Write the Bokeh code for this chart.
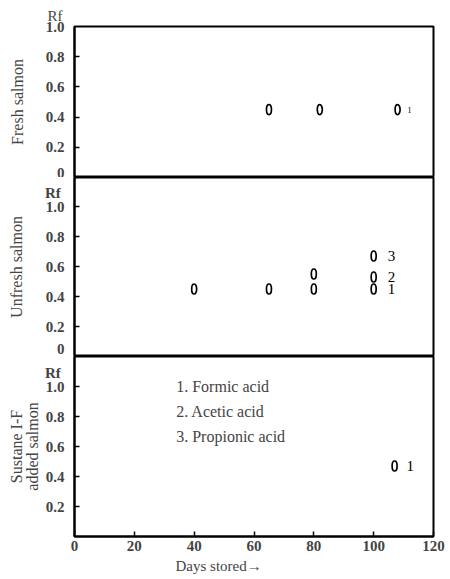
from bokeh.plotting import figure
from bokeh.layouts import column
from bokeh.models import Range1d, FixedTicker, Label, Title
from bokeh.core.properties import value
from bokeh.embed import file_html
from bokeh.resources import INLINE

# ---------------- data ----------------
x_ticks = [0, 20, 40, 60, 80, 100, 120]
y_ticks_top = [0, 0.2, 0.4, 0.6, 0.8, 1.0]
y_ticks_mid = [0, 0.2, 0.4, 0.6, 0.8, 1.0]
y_ticks_bot = [0.2, 0.4, 0.6, 0.8, 1.0]
y_tick_labels = {0: "0", 0.2: "0.2", 0.4: "0.4", 0.6: "0.6", 0.8: "0.8", 1.0: "1.0"}
rf_label = "Rf"

panel_titles = ["Fresh salmon", "Unfresh salmon", "Sustane I-F\nadded salmon"]

fresh_days = [65, 82, 108]
fresh_rf = [0.45, 0.45, 0.45]

unfresh_formic_days = [40, 65, 80, 100]
unfresh_formic_rf = [0.45, 0.45, 0.45, 0.45]
unfresh_acetic_days = [80, 100]
unfresh_acetic_rf = [0.55, 0.53]
unfresh_propionic_days = [100]
unfresh_propionic_rf = [0.67]

sustane_formic_days = [107]
sustane_formic_rf = [0.47]

legend_items = ["1. Formic acid", "2. Acetic acid", "3. Propionic acid"]
x_label = "Days stored\u2192"

# ---------------- layout / styling ----------------
SERIF = "Liberation Serif"
PX_PER_RF = 150.0
x_range = Range1d(0, 120)
FIG_W = 449
LEFT = 74
RIGHT = 16


def make_panel(frame_h, border_top, border_bottom, yticks, title, title_standoff,
               rf_tick, show_x, y_end=None, label_line_height=1.2):
    height = frame_h + border_top + border_bottom
    top = y_end if y_end is not None else frame_h / PX_PER_RF
    p = figure(width=FIG_W, height=height, x_range=x_range, y_range=Range1d(0, top),
               output_backend="svg", toolbar_location=None,
               min_border_left=LEFT, min_border_right=RIGHT,
               min_border_top=border_top, min_border_bottom=border_bottom,
               x_axis_location="below" if show_x else None)
    p.grid.visible = False
    p.outline_line_color = "black"
    p.outline_line_width = 2
    p.background_fill_color = "white"
    p.border_fill_color = "white"

    labels = {k: v for k, v in y_tick_labels.items() if k in yticks}
    majors = list(yticks)
    if rf_tick:
        rf_pos = 1.09
        majors.append(rf_pos)
        labels[rf_pos] = rf_label + "\u00a0"
    marks = [t for t in yticks if 0 < t < top]

    ya = p.yaxis[0]
    ya.ticker = FixedTicker(ticks=majors, minor_ticks=marks)
    ya.major_label_overrides = labels
    ya.major_tick_line_color = None
    ya.minor_tick_in = 5
    ya.minor_tick_out = 0
    ya.minor_tick_line_color = "black"
    ya.minor_tick_line_width = 1.5
    ya.axis_line_width = 2
    ya.major_label_text_font = SERIF
    ya.major_label_text_font_style = "bold"
    ya.major_label_text_font_size = "15px"
    ya.major_label_standoff = 4
    ya.axis_label = title
    ya.axis_label_text_font = SERIF
    ya.axis_label_text_font_style = "normal"
    ya.axis_label_text_font_size = "16px"
    ya.axis_label_text_line_height = label_line_height
    ya.axis_label_standoff = title_standoff

    if show_x:
        xa = p.xaxis[0]
        xa.ticker = FixedTicker(ticks=x_ticks)
        xa.major_tick_in = 5
        xa.major_tick_out = 0
        xa.minor_tick_line_color = None
        xa.axis_line_width = 2
        xa.major_tick_line_width = 1.5
        xa.major_label_text_font = SERIF
        xa.major_label_text_font_style = "bold"
        xa.major_label_text_font_size = "15px"
        xa.major_label_standoff = 4
    return p


def spots(p, days, rf):
    p.ellipse(x=days, y=rf, width=5, height=10, width_units="screen", height_units="screen",
              fill_color=None, line_color="black", line_width=1.7)


def tags(p, days, rf, texts, dx, size):
    p.text(x=days, y=rf, text=texts, x_offset=dx, text_baseline="middle",
           text_font=value(SERIF), text_font_size=size, text_color="black")


# panel 1: fresh salmon
p1 = make_panel(151, 26, 0, y_ticks_top, panel_titles[0], 17, False, False, y_end=1.0)
p1.add_layout(Title(text=rf_label, align="left", offset=-27, standoff=6,
                    text_font=SERIF, text_font_size="15px", text_font_style="normal"), "above")
spots(p1, fresh_days, fresh_rf)
tags(p1, fresh_days[-1:], fresh_rf[-1:], ["1"], 10, "8px")

# panel 2: unfresh salmon
p2 = make_panel(179, 0, 0, y_ticks_mid, panel_titles[1], 17, True, False)
spots(p2, unfresh_formic_days, unfresh_formic_rf)
spots(p2, unfresh_acetic_days, unfresh_acetic_rf)
spots(p2, unfresh_propionic_days, unfresh_propionic_rf)
tags(p2, [unfresh_formic_days[-1], unfresh_acetic_days[-1], unfresh_propionic_days[-1]],
     [unfresh_formic_rf[-1], unfresh_acetic_rf[-1], unfresh_propionic_rf[-1]],
     ["1", "2", "3"], 14, "15px")

# panel 3: Sustane I-F added salmon
p3 = make_panel(180, 0, 42, y_ticks_bot, panel_titles[2], 1, True, True, label_line_height=0.95)
spots(p3, sustane_formic_days, sustane_formic_rf)
tags(p3, sustane_formic_days, sustane_formic_rf, ["1"], 12, "15px")
for i, item in enumerate(legend_items):
    p3.add_layout(Label(x=34, y=1.0, y_offset=-25 * i, text=item, text_font=SERIF,
                        text_font_size="16px", text_baseline="middle"))
p3.add_layout(Title(text=x_label, align="left", offset=101, standoff=5,
                    text_font=SERIF, text_font_size="15px", text_font_style="normal"), "below")

layout = column(p1, p2, p3, spacing=0)
open("out.html", "w").write(file_html(layout, INLINE))
